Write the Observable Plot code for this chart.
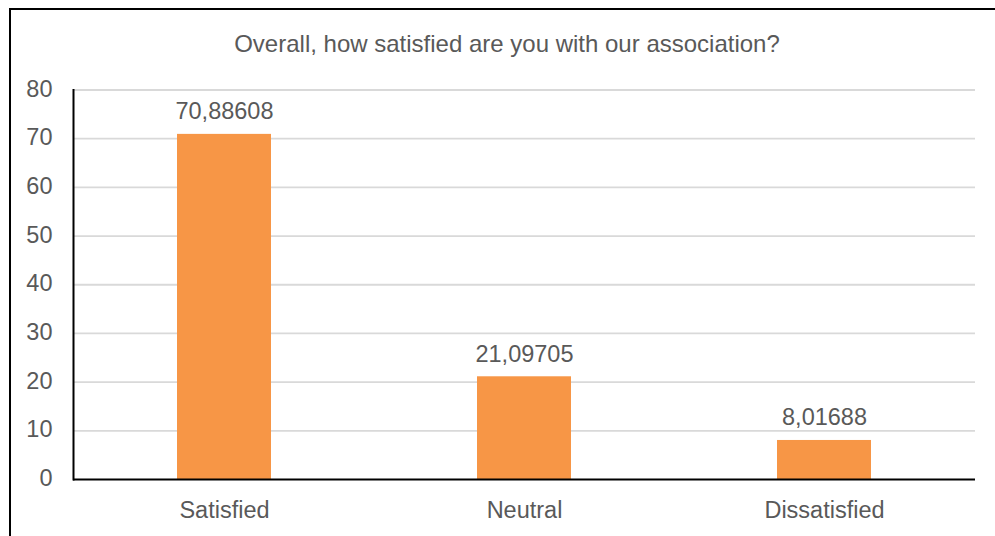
<!DOCTYPE html>
<html>
<head>
<meta charset="utf-8">
<script src="https://cdn.jsdelivr.net/npm/d3@7"></script>
<script src="https://cdn.jsdelivr.net/npm/@observablehq/plot@0.6"></script>
<style>
  html, body { margin: 0; padding: 0; background: #fff; }
  #wrap { position: relative; width: 995px; height: 536px; overflow: hidden; font-family: "Liberation Sans", Arial, sans-serif; }
  #border { position: absolute; left: 9px; top: 8px; width: 1100px; height: 600px; border-left: 2px solid #000; border-top: 2px solid #000; }
  #title { position: absolute; left: 507px; top: 31px; transform: translateX(-50%); white-space: nowrap; font-size: 24px; color: #595959; line-height: 26px; }
  #chart { position: absolute; left: 0; top: 0; }
</style>
</head>
<body>
<div id="wrap">
  <div id="border"></div>
  <div id="chart"></div>
  <div id="title">Overall, how satisfied are you with our association?</div>
</div>
<script>
// Survey answers and their shares (percent)
const categories = ["Satisfied", "Neutral", "Dissatisfied"];
const values = [70.88608, 21.09705, 8.01688];
const yTicks = [0, 10, 20, 30, 40, 50, 60, 70, 80];

const rows = categories.map((c, i) => ({category: c, value: values[i]}));
const fmt = v => String(v).replace(".", ",");
const textColor = "#595959";

const chart = Plot.plot({
  width: 995,
  height: 536,
  marginTop: 89.5,
  marginBottom: 57,
  marginLeft: 73,
  marginRight: 20,
  style: {fontFamily: "'Liberation Sans', Arial, sans-serif", fontSize: "23.5px", color: textColor, background: "transparent"},
  x: {domain: categories, paddingInner: 0.687, paddingOuter: 0.3435},
  y: {domain: [0, 80]},
  marks: [
    Plot.gridY(yTicks.slice(1), {stroke: "#d9d9d9", strokeOpacity: 1, strokeWidth: 1.8}),
    Plot.barY(rows, {x: "category", y: "value", fill: "#F79646"}),
    Plot.ruleY([0], {stroke: "#000", strokeWidth: 2}),
    Plot.frame({anchor: "left", stroke: "#000", strokeWidth: 2}),
    Plot.axisY(yTicks, {tickSize: 0, tickPadding: 21, label: null, fill: textColor, dy: -1}),
    Plot.axisX({tickSize: 0, tickPadding: 22, label: null, fill: textColor}),
    Plot.text(rows, {x: "category", y: "value", text: d => fmt(d.value), lineAnchor: "bottom", dy: -15, fill: textColor})
  ]
});
document.getElementById("chart").appendChild(chart);
</script>
</body>
</html>
